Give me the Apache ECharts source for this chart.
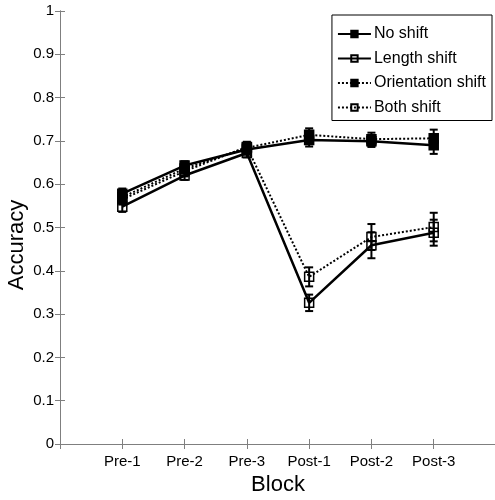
<!DOCTYPE html>
<html>
<head>
<meta charset="utf-8">
<script src="https://cdn.jsdelivr.net/npm/echarts@6/dist/echarts.min.js"></script>
<style>html,body{margin:0;padding:0;background:#fff;}#c{width:495px;height:500px;}</style>
</head>
<body>
<div id="c"></div>
<script>
const categories = ['Pre-1', 'Pre-2', 'Pre-3', 'Post-1', 'Post-2', 'Post-3'];
const yTicks = [0, 0.1, 0.2, 0.3, 0.4, 0.5, 0.6, 0.7, 0.8, 0.9, 1];

const noShift = [0.578, 0.643, 0.680, 0.702, 0.699, 0.690];
const noShiftErr = [0.012, 0.010, 0.012, 0.015, 0.013, 0.020];
const lengthShift = [0.548, 0.620, 0.672, 0.326, 0.459, 0.488];
const lengthShiftErr = [0.012, 0.010, 0.010, 0.019, 0.030, 0.030];
const orientShift = [0.570, 0.636, 0.684, 0.714, 0.704, 0.706];
const orientShiftErr = [0.012, 0.012, 0.012, 0.015, 0.015, 0.020];
const bothShift = [0.565, 0.630, 0.686, 0.386, 0.478, 0.501];
const bothShiftErr = [0.012, 0.012, 0.012, 0.022, 0.030, 0.033];

const FONT = 'Liberation Sans, Arial, Helvetica, sans-serif';
const AXC = '#7f7f7f';

function pts(vals) { return vals.map((v, i) => [i + 1, v]); }
function errPts(vals, errs) { return vals.map((v, i) => [i + 1, v - errs[i], v + errs[i]]); }

function lineSeries(name, vals, dotted, filled) {
  return {
    name: name, type: 'line', data: pts(vals),
    symbol: 'rect', symbolSize: 9,
    lineStyle: { color: '#000', width: dotted ? 2 : 2.5, type: dotted ? [2, 2] : 'solid' },
    itemStyle: { color: filled ? '#000' : 'rgba(255,255,255,0)', borderColor: '#000', borderWidth: 1.5 },
    emphasis: { disabled: true }, animation: false, z: 3
  };
}
function errSeries(vals, errs) {
  return {
    type: 'custom', data: errPts(vals, errs), animation: false, z: 4,
    renderItem: function (params, api) {
      const x = api.value(0);
      const lo = api.coord([x, api.value(1)]);
      const hi = api.coord([x, api.value(2)]);
      const w = 4;
      const st = { stroke: '#000', lineWidth: 2 };
      return { type: 'group', children: [
        { type: 'line', shape: { x1: lo[0], y1: lo[1], x2: hi[0], y2: hi[1] }, style: st },
        { type: 'line', shape: { x1: lo[0] - w, y1: lo[1], x2: lo[0] + w, y2: lo[1] }, style: st },
        { type: 'line', shape: { x1: hi[0] - w, y1: hi[1], x2: hi[0] + w, y2: hi[1] }, style: st }
      ]};
    }
  };
}

const chart = echarts.init(document.getElementById('c'), null, { renderer: 'canvas' });
chart.setOption({
  backgroundColor: '#fff',
  animation: false,
  textStyle: { fontFamily: FONT },
  grid: { left: 60, right: -1, top: 11, bottom: 56, containLabel: false, outerBoundsMode: 'none' },
  legend: {
    right: 3, top: 15, orient: 'vertical', itemGap: 8.5,
    itemWidth: 33, itemHeight: 8,
    padding: [11, 6, 5, 5],
    borderColor: '#000', borderWidth: 1, backgroundColor: '#fff',
    textStyle: { fontSize: 16, color: '#000', fontFamily: FONT, padding: [0, 0, 0, -2] },
    data: ['No shift', 'Length shift', 'Orientation shift', 'Both shift']
  },
  graphic: [{
    type: 'text', x: 17, y: 245, rotation: Math.PI / 2,
    style: { text: 'Accuracy', fontSize: 22, fill: '#000', fontFamily: FONT, align: 'center', verticalAlign: 'middle' }
  }],
  xAxis: [{
    type: 'value', min: 0, max: 7, interval: 1, position: 'bottom',
    name: 'Block', nameLocation: 'middle', nameGap: 28,
    nameTextStyle: { fontSize: 22, color: '#000', fontFamily: FONT },
    axisLine: { show: true, lineStyle: { color: AXC, width: 1 } },
    axisTick: { show: true, inside: true, length: 5, lineStyle: { color: AXC } },
    axisLabel: { fontSize: 15, color: '#000', margin: 10, fontFamily: FONT,
      formatter: v => categories[v - 1] || '' },
    splitLine: { show: false }
  }, {
    type: 'value', min: 0, max: 7, interval: 1, position: 'top',
    axisLine: { show: true, lineStyle: { color: AXC, width: 1 } },
    axisTick: { show: true, inside: true, length: 5, lineStyle: { color: AXC } },
    axisLabel: { show: false }, splitLine: { show: false }
  }],
  yAxis: [{
    type: 'value', min: 0, max: 1, interval: 0.1, position: 'left',
    axisLine: { show: true, lineStyle: { color: AXC, width: 1 } },
    axisTick: { show: true, inside: true, length: 5, lineStyle: { color: AXC } },
    axisLabel: { fontSize: 15, color: '#000', margin: 6, fontFamily: FONT,
      formatter: v => { const t = yTicks.find(k => Math.abs(k - v) < 1e-9); return t === undefined ? '' : String(t); } },
    splitLine: { show: false }
  }, {
    type: 'value', min: 0, max: 1, interval: 0.1, position: 'right',
    axisLine: { show: true, lineStyle: { color: AXC, width: 1 } },
    axisTick: { show: true, inside: true, length: 5, lineStyle: { color: AXC } },
    axisLabel: { show: false }, splitLine: { show: false }
  }],
  series: [
    lineSeries('No shift', noShift, false, true),
    lineSeries('Length shift', lengthShift, false, false),
    lineSeries('Orientation shift', orientShift, true, true),
    lineSeries('Both shift', bothShift, true, false),
    errSeries(noShift, noShiftErr),
    errSeries(lengthShift, lengthShiftErr),
    errSeries(orientShift, orientShiftErr),
    errSeries(bothShift, bothShiftErr)
  ]
});
</script>
</body>
</html>
